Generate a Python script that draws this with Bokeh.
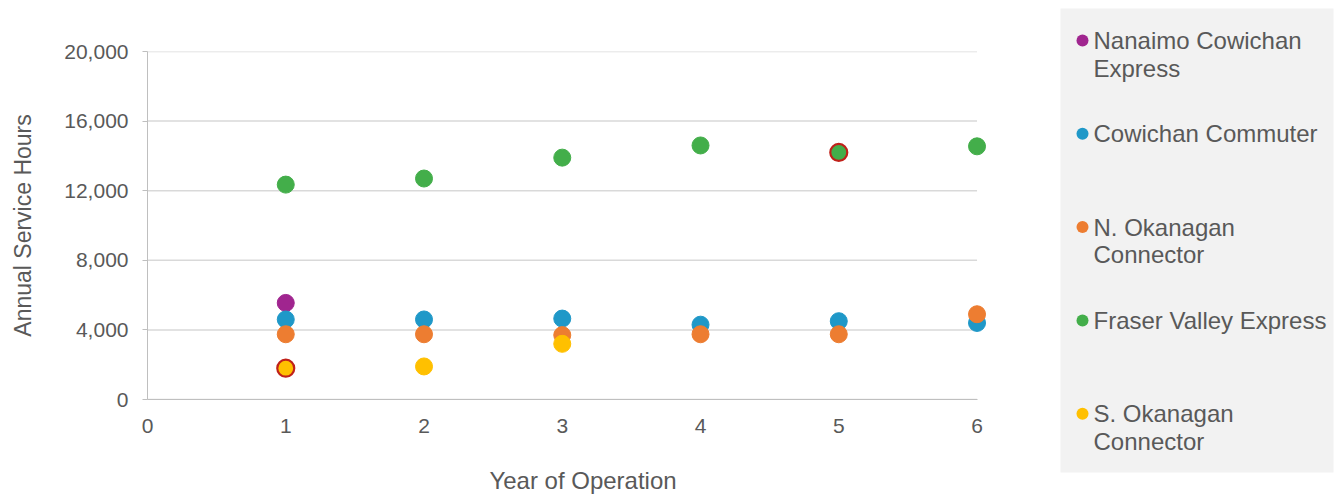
from bokeh.plotting import figure
from bokeh.layouts import row, column
from bokeh.models import FixedTicker, NumeralTickFormatter, ColumnDataSource, Range1d
from bokeh.embed import file_html
from bokeh.resources import INLINE
from bokeh.core.properties import value

# ---------------- data ----------------
series_names = ["Nanaimo Cowichan Express", "Cowichan Commuter", "N. Okanagan Connector",
                "Fraser Valley Express", "S. Okanagan Connector"]
legend_labels = ["Nanaimo Cowichan\nExpress", "Cowichan Commuter", "N. Okanagan\nConnector",
                 "Fraser Valley Express", "S. Okanagan\nConnector"]
series_colors = ["#a0258f", "#1f98c8", "#ed7d31", "#43ae4a", "#ffc000"]

nanaimo_years = [1]
nanaimo_hours = [5550]
cowichan_years = [1, 2, 3, 4, 5, 6]
cowichan_hours = [4600, 4600, 4650, 4300, 4500, 4400]
n_okanagan_years = [1, 2, 3, 4, 5, 6]
n_okanagan_hours = [3750, 3750, 3700, 3750, 3750, 4900]
fraser_years = [1, 2, 3, 4, 5, 6]
fraser_hours = [12350, 12700, 13900, 14600, 14200, 14550]
s_okanagan_years = [1, 2, 3]
s_okanagan_hours = [1800, 1900, 3200]

# points drawn with a red outline in the original
highlighted = [("S. Okanagan Connector", 1), ("Fraser Valley Express", 5)]

x_ticks = [0, 1, 2, 3, 4, 5, 6]
y_ticks = [0, 4000, 8000, 12000, 16000, 20000]
x_title = "Year of Operation"
y_title = "Annual Service Hours"

series_years = [nanaimo_years, cowichan_years, n_okanagan_years, fraser_years, s_okanagan_years]
series_hours = [nanaimo_hours, cowichan_hours, n_okanagan_hours, fraser_hours, s_okanagan_hours]

FONT = "Liberation Sans"
TEXT = "#595959"

# ---------------- main chart ----------------
p = figure(width=1048, height=496, output_backend="svg", toolbar_location=None,
           x_range=Range1d(0, 6.3), y_range=Range1d(0, 20000),
           min_border_left=147, min_border_right=30, min_border_top=51, min_border_bottom=96)
p.outline_line_color = None
p.xgrid.visible = False
p.ygrid.visible = False
p.background_fill_color = "white"
p.border_fill_color = "white"

# horizontal gridlines limited to the 0..6 span
p.segment(x0=[x_ticks[0]] * len(y_ticks), x1=[x_ticks[-1]] * len(y_ticks), y0=y_ticks, y1=y_ticks,
          line_color="#d9d9d9", line_width=1.5)

for name, yrs, hrs, col in zip(series_names, series_years, series_hours, series_colors):
    lc = ["#c0211a" if (name, yr) in highlighted else col for yr in yrs]
    lw = [2.2 if (name, yr) in highlighted else 1 for yr in yrs]
    src = ColumnDataSource(dict(x=yrs, y=hrs, lc=lc, lw=lw))
    p.scatter("x", "y", source=src, size=17, fill_color=col, line_color="lc", line_width="lw")

xa = p.xaxis[0]
xa.ticker = FixedTicker(ticks=x_ticks)
xa.bounds = (x_ticks[0], x_ticks[-1])
xa.axis_line_color = "#bfbfbf"
xa.major_tick_out = 0
xa.major_tick_in = 0
xa.minor_tick_line_color = None
xa.major_label_standoff = 19
xa.major_label_text_font = FONT
xa.major_label_text_font_size = "21px"
xa.major_label_text_color = TEXT
xa.axis_label = x_title
xa.axis_label_text_font = FONT
xa.axis_label_text_font_size = "24px"
xa.axis_label_text_font_style = "normal"
xa.axis_label_text_color = TEXT
xa.axis_label_standoff = 31

ya = p.yaxis[0]
ya.ticker = FixedTicker(ticks=y_ticks)
ya.formatter = NumeralTickFormatter(format="0,0")
ya.axis_line_color = "#bfbfbf"
ya.major_tick_line_color = "#bfbfbf"
ya.major_tick_out = 5
ya.major_tick_in = 0
ya.minor_tick_line_color = None
ya.major_label_standoff = 14
ya.major_label_text_font = FONT
ya.major_label_text_font_size = "21px"
ya.major_label_text_color = TEXT
ya.axis_label = y_title
ya.axis_label_text_font = FONT
ya.axis_label_text_font_size = "23px"
ya.axis_label_text_font_style = "normal"
ya.axis_label_text_color = TEXT
ya.axis_label_standoff = 25

# ---------------- legend panel ----------------
LW, LH = 293, 496
lg = figure(width=LW, height=LH, output_backend="svg", toolbar_location=None,
            x_range=Range1d(0, LW), y_range=Range1d(LH, 0),
            x_axis_location=None, y_axis_location=None,
            min_border=0, min_border_left=0, min_border_right=0, min_border_top=0, min_border_bottom=0)
lg.outline_line_color = None
lg.xgrid.visible = False
lg.ygrid.visible = False
lg.border_fill_color = "white"
lg.background_fill_color = "white"
lg.quad(left=[12], right=[285], top=[8], bottom=[472], fill_color="#f2f2f2", line_color=None)

slot0, slot_step, line_h = 40, 93.3, 27.5
mx, my, mc = [], [], []
tx, ty, tt = [], [], []
for i, (lab, col) in enumerate(zip(legend_labels, series_colors)):
    cy = slot0 + slot_step * i
    mx.append(34); my.append(cy); mc.append(col)
    for j, line in enumerate(lab.split("\n")):
        tx.append(45); ty.append(cy + j * line_h); tt.append(line)
lg.scatter(mx, my, size=12, fill_color=mc, line_color=None)
lg.text(tx, ty, text=tt, text_font=value(FONT), text_font_size="24px", text_color=TEXT,
        text_baseline="middle", text_align="left")

layout = row(p, column(lg))
open("out.html", "w").write(file_html(layout, INLINE))
